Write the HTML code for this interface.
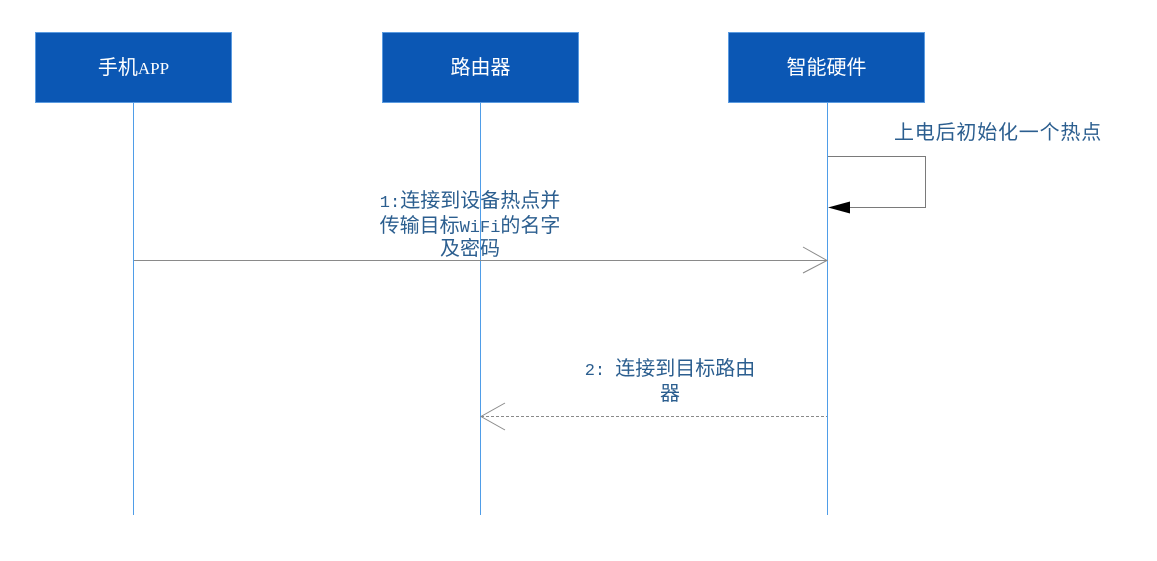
<!DOCTYPE html>
<html>
<head>
<meta charset="utf-8">
<style>
  html, body { margin: 0; padding: 0; background: #ffffff; }
  body { width: 1157px; height: 561px; position: relative; overflow: hidden; }
  svg { position: absolute; left: 0; top: 0; }
  .box {
    position: absolute; top: 32px; height: 71px; width: 197px;
    background: #0b57b4; border: 1px solid #5b9be0; box-sizing: border-box;
    color: #ffffff; text-align: center; line-height: 70px;
    font-family: "Liberation Sans", "Noto Sans CJK SC", sans-serif; font-size: 20px;
  }
  .lat { font-family: "Liberation Serif", serif; font-size: 17px; line-height: 1; }
  .mono { font-family: "Liberation Mono", monospace; font-size: 17px; line-height: 1; }
  .lbl {
    position: absolute; color: #2b5e8f; text-align: center; height: 24px;
    font-family: "Liberation Sans", "Noto Sans CJK SC", sans-serif; font-size: 20px;
    line-height: 24px; white-space: nowrap;
  }
</style>
</head>
<body>
<svg width="1157" height="561" viewBox="0 0 1157 561">
  <!-- lifelines -->
  <rect x="133" y="103" width="1" height="412" fill="#4f9de8"/>
  <rect x="480" y="103" width="1" height="412" fill="#4f9de8"/>
  <rect x="827" y="103" width="1" height="412" fill="#4f9de8"/>

  <!-- self loop -->
  <polyline points="828,156.5 925.5,156.5 925.5,207.5 848,207.5" fill="none" stroke="#7a7a7a" stroke-width="1"/>
  <polygon points="828,207.5 850,201.5 850,213.5" fill="#000000"/>

  <!-- message 1 -->
  <line x1="134" y1="260.5" x2="827" y2="260.5" stroke="#8a8a8a" stroke-width="1"/>
  <polyline points="803,247 827,260.5 803,273" fill="none" stroke="#8a8a8a" stroke-width="1"/>

  <!-- message 2 -->
  <line x1="481" y1="416.5" x2="827" y2="416.5" stroke="#8a8a8a" stroke-width="1" stroke-dasharray="3,2"/>
  <polyline points="505,403 481,416.5 505,430" fill="none" stroke="#8a8a8a" stroke-width="1"/>
</svg>

<div class="box" style="left:35px;">手机<span class="lat">APP</span></div>
<div class="box" style="left:382px;">路由器</div>
<div class="box" style="left:728px;">智能硬件</div>

<div class="lbl" style="left:894px; top:121px; letter-spacing:0.8px; text-align:left;">上电后初始化一个热点</div>

<div class="lbl" style="left:320px; width:300px; top:189px;"><span class="mono">1:</span>连接到设备热点并</div>
<div class="lbl" style="left:320px; width:300px; top:214px;">传输目标<span class="mono">WiFi</span>的名字</div>
<div class="lbl" style="left:320px; width:300px; top:237px;">及密码</div>

<div class="lbl" style="left:520px; width:300px; top:357px;"><span class="mono">2: </span>连接到目标路由</div>
<div class="lbl" style="left:520px; width:300px; top:382px;">器</div>
</body>
</html>
